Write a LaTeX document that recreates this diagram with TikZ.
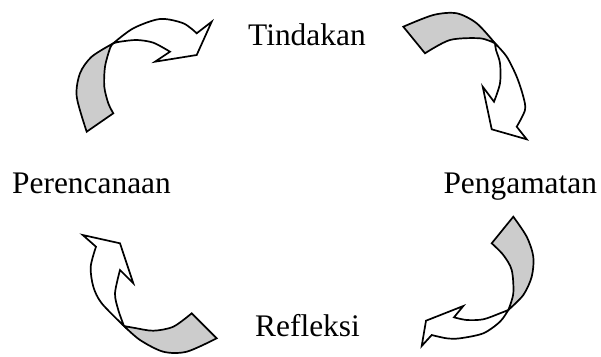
\documentclass[tikz,border=0pt]{standalone}
\usepackage{fontspec}
\setmainfont{Liberation Serif}
\begin{document}
\begin{tikzpicture}[x=1pt,y=-1pt,
  band/.style={draw=black,line width=1.7pt,line join=miter,fill=#1},
  band/.default=white,
  stage/.style={anchor=base west,inner sep=0pt,font=\fontsize{31.4pt}{36pt}\selectfont}]
\useasboundingbox (0,0) rectangle (601,356);

% stage labels
\node[stage] (tindakan) at (248,45) {Tindakan};
\node[stage] (perencanaan) at (12,193.3) {Perencanaan};
\node[stage] (pengamatan) at (443.3,193.3) {Pengamatan};
\node[stage] (refleksi) at (255,336) {Refleksi};

% upper left twisted arrow
\draw[band=gray!40] plot[smooth] coordinates {(86.7,131.7) (76.7,96.7) (80,73.3) (91.7,56.7) (113.3,43.3)}
  -- plot[smooth] coordinates {(113.3,43.3) (110,48.3) (105,66.7) (104.3,86.7) (108.3,103.3) (113.3,113.3)}
  -- cycle;
\draw[band] plot[smooth] coordinates {(113.3,43.3) (133.3,28.3) (160,19) (183.3,23.3) (196.7,33.3)}
  -- (211.7,21.7) -- (196.7,55) -- (155,61.7) -- (170,51.7)
  -- plot[smooth] coordinates {(170,51.7) (153.3,42.7) (136.7,40) (120,41.7) (113.3,43.3)}
  -- cycle;

% upper right twisted arrow
\draw[band=gray!40] plot[smooth] coordinates {(403.3,26.7) (433.3,15) (456.7,13.3) (476.7,23.3) (495,43.3)}
  -- plot[smooth] coordinates {(495,43.3) (480,38.3) (450,40) (425,53.3)}
  -- cycle;
\draw[band] plot[smooth] coordinates {(495,43.3) (506.7,56.7) (516.7,76.7) (523.3,96.7) (525,110) (516.7,126.7)}
  -- (526.7,139.3) -- (491.7,129.3) -- (482.7,86.7) -- (494,101.7)
  -- plot[smooth] coordinates {(494,101.7) (500,83.3) (500,63.3) (496,50) (495,43.3)}
  -- cycle;

% lower right twisted arrow
\draw[band=gray!40] plot[smooth] coordinates {(513.3,216.7) (526.7,236.7) (533.3,256.7) (531.7,276.7) (523.3,295) (508.3,310)}
  -- plot[smooth] coordinates {(508.3,310) (513.3,293.3) (511.7,270) (503.3,255) (491.7,243.3)}
  -- cycle;
\draw[band] plot[smooth] coordinates {(508.3,310) (500,321.7) (483.3,333.3) (460,338.3) (446.7,338.3) (431.7,335)}
  -- (421.7,346) -- (426,320.7) -- (463.3,306) -- (454,317.3)
  -- plot[smooth] coordinates {(454,317.3) (466.7,320) (483.3,319.3) (500,313.3) (508.3,310)}
  -- cycle;

% lower left twisted arrow
\draw[band=gray!40] plot[smooth] coordinates {(216.7,338.3) (186.7,351.7) (163.3,351.7) (140,340) (124,326)}
  -- plot[smooth] coordinates {(124,326) (135,328) (153.3,330.7) (173.3,326.7) (191.7,313.3)}
  -- cycle;
\draw[band] plot[smooth] coordinates {(124,326) (101.7,303.3) (93.3,286.7) (90.7,266.7) (96,246.7)}
  -- (82.7,235) -- (120,243.3) -- (133.3,283.3) -- (120,270)
  -- plot[smooth] coordinates {(120,270) (115,293.3) (118.3,310) (124,326)}
  -- cycle;
\end{tikzpicture}
\end{document}
